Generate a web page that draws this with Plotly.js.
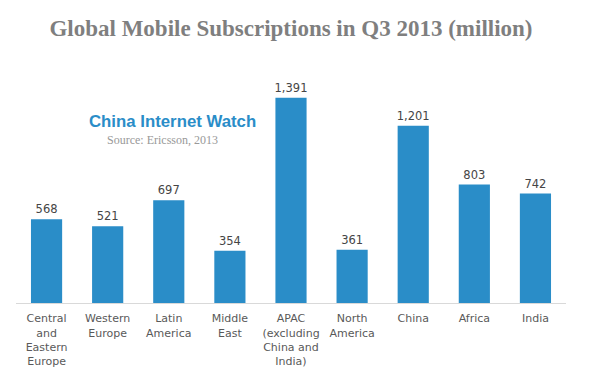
<!DOCTYPE html>
<html>
<head>
<meta charset="utf-8">
<script src="https://cdn.plot.ly/plotly-3.0.1.min.js"></script>
<style>html,body{margin:0;padding:0;background:#fff;}#chart{width:600px;height:383px;}</style>
</head>
<body>
<div id="chart"></div>
<script>
var categories = ["Central<br>and<br>Eastern<br>Europe", "Western<br>Europe", "Latin<br>America", "Middle<br>East", "APAC<br>(excluding<br>China and<br>India)", "North<br>America", "China", "Africa", "India"];
var values = [568, 521, 697, 354, 1391, 361, 1201, 803, 742];
var valueLabels = ["568", "521", "697", "354", "1,391", "361", "1,201", "803", "742"];

var trace = {
  type: "bar",
  x: categories,
  y: values,
  text: valueLabels,
  textposition: "outside",
  constraintext: "none",
  cliponaxis: false,
  textfont: {family: "DejaVu Sans", size: 11.5, color: "#454545"},
  outsidetextfont: {family: "DejaVu Sans", size: 11.5, color: "#454545"},
  marker: {color: "#2a8dc8"},
  hoverinfo: "none"
};

var layout = {
  width: 600, height: 383,
  margin: {l: 16, r: 34, t: 67, b: 80},
  paper_bgcolor: "#ffffff", plot_bgcolor: "#ffffff",
  bargap: 0.49,
  showlegend: false,
  title: {
    text: "<b>Global Mobile Subscriptions in Q3 2013 (million)</b>",
    font: {family: "Liberation Serif", size: 23, color: "#7f7f7f"},
    x: 0.5, xref: "paper", y: 1 - 28/383, yref: "container", yanchor: "middle"
  },
  xaxis: {
    type: "category",
    showline: true, linecolor: "#d9d9d9", linewidth: 1,
    ticks: "", showgrid: false, zeroline: false, tickangle: 0,
    ticklabelstandoff: 5,
    tickfont: {family: "DejaVu Sans", size: 11, color: "#595959"}
  },
  yaxis: {
    range: [0, 1600], visible: false, showgrid: false, zeroline: false
  },
  annotations: [
    {text: "<b>China Internet Watch</b>", xref: "paper", yref: "paper", x: 0.284, y: 0.767,
     xanchor: "center", yanchor: "middle",
     showarrow: false, font: {family: "Liberation Sans", size: 16.8, color: "#2a8dc8"}},
    {text: "Source: Ericsson, 2013", xref: "paper", yref: "paper", x: 0.267, y: 0.691,
     xanchor: "center", yanchor: "middle",
     showarrow: false, font: {family: "Liberation Serif", size: 12, color: "#999999"}}
  ]
};

Plotly.newPlot("chart", [trace], layout, {displayModeBar: false, staticPlot: true});
</script>
</body>
</html>
